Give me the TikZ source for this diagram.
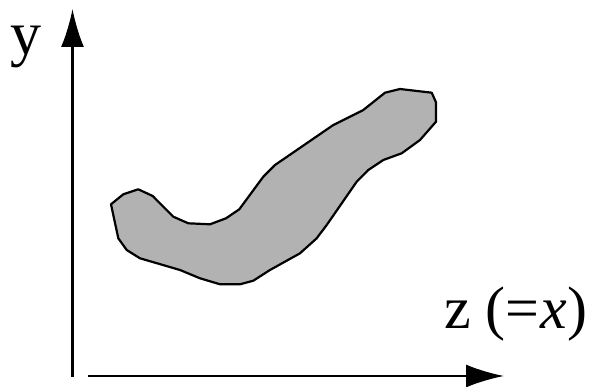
\documentclass[tikz,border=0pt]{standalone}
\usepackage{fontspec}
\setmainfont{Liberation Serif}
\usepackage{tikz}
\usetikzlibrary{arrows.meta}

\begin{document}
\begin{tikzpicture}[>={Latex[length=38pt,width=23pt]}, x=1pt, y=-1pt]
    \useasboundingbox (0,0) rectangle (595,387);

    % 1. Trục
    \coordinate (yfoot) at (72.5,377);
    \coordinate (ytip) at (72.5,9);
    \coordinate (xfoot) at (88,376);
    \coordinate (xtip) at (504,376);
    \draw[->, line width=2.3pt] (yfoot) -- (ytip);
    \draw[->, line width=2.3pt] (xfoot) -- (xtip);
    \node[anchor=base, inner sep=0pt] (ylab) at (26,55) {\fontsize{62}{68}\selectfont y};
    \node[anchor=base west, inner sep=0pt] (zlab) at (444,329)
        {\fontsize{60}{66}\selectfont z (=\kern1pt\textit{x})};

    % 2. Miền tô xám
    \draw[line width=2.2pt, line join=round, fill=gray!60]
        (111,204.3) -- (123.3,194.3) -- (138.3,189.3) -- (152.7,196)
        -- (173.3,216.7) -- (188.3,223.3) -- (210,224.3) -- (226,218.3)
        -- (239.3,209.3) -- (263.3,176.7) -- (275,165) -- (333.3,125)
        -- (363.3,110) -- (385,92.7) -- (400,89) -- (431.7,92.7)
        -- (436,102.3) -- (436,121.7) -- (420,140) -- (401.7,153.3)
        -- (383.3,160) -- (368.3,170) -- (356.7,181.7) -- (326.7,225)
        -- (316.7,238.3) -- (300,253.3) -- (270,270) -- (253.3,280.7)
        -- (240,284.3) -- (220,284.3) -- (200,278.3) -- (180,270)
        -- (140,258.3) -- (126.7,250) -- (118.3,238.3) -- cycle;
\end{tikzpicture}
\end{document}
